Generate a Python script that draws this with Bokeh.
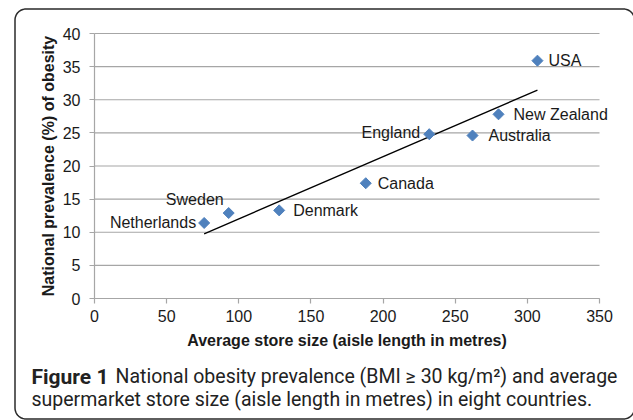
import numpy as np
from bokeh.plotting import figure
from bokeh.models import (ColumnDataSource, Range1d, FixedTicker, Label,
                          LabelSet)
from bokeh.core.properties import value
from bokeh.embed import file_html
from bokeh.resources import INLINE

# ---- data ----
countries = ["Netherlands", "Sweden", "Denmark", "Canada", "England",
             "Australia", "New Zealand", "USA"]
store_size = [76, 93, 128, 188, 232, 262, 280, 307]
obesity = [11.4, 12.9, 13.3, 17.4, 24.8, 24.6, 27.8, 35.9]

x_ticks = [0, 50, 100, 150, 200, 250, 300, 350]
y_ticks = [0, 5, 10, 15, 20, 25, 30, 35, 40]

caption_bold = "Figure 1"
caption_line1 = "National obesity prevalence (BMI \u2265 30 kg/m\u00b2) and average"
caption_line2 = "supermarket store size (aisle length in metres) in eight countries."

# label placement styles (pixel offsets / alignment)
lab_dx = [-8, -5, 14, 12, -9, 16, 15, 11]
lab_dy = [0, 14, 0, 0, 2, 0, 0, 0]
lab_align = ["right", "right", "left", "left", "right", "left", "left", "left"]

BLUE = "#4F81BD"
GRID = "#a6a6a6"
TXT = "#1a1a1a"

# ---- layout (pixels) ----
W, H = 633, 420
PX_L, PX_R = 94, 599      # x = 0 .. 350
PX_T, PX_B = 33, 298      # y = 40 .. 0
xmin, xmax = x_ticks[0], x_ticks[-1]
ymin, ymax = y_ticks[0], y_ticks[-1]
kx = (PX_R - PX_L) / (xmax - xmin)
ky = (PX_B - PX_T) / (ymax - ymin)
x_range = Range1d(xmin - PX_L / kx, xmax + (W - PX_R) / kx)
y_range = Range1d(ymin - (H - PX_B) / ky, ymax + PX_T / ky)


def px_to_data(px, py):
    return (xmin + (np.asarray(px) - PX_L) / kx,
            ymin + (PX_B - np.asarray(py)) / ky)


p = figure(width=W, height=H, output_backend="svg", toolbar_location=None,
           x_range=x_range, y_range=y_range,
           min_border=0, min_border_left=0, min_border_right=0,
           min_border_top=0, min_border_bottom=0)
p.outline_line_color = None
p.background_fill_color = "white"
p.border_fill_color = "white"
p.xgrid.visible = False
p.ygrid.visible = False

# horizontal gridlines limited to the x extent
p.segment(x0=[xmin] * len(y_ticks), x1=[xmax] * len(y_ticks), y0=y_ticks,
          y1=y_ticks, line_color=GRID, line_width=1.2)

p.xaxis.ticker = FixedTicker(ticks=x_ticks)
p.yaxis.ticker = FixedTicker(ticks=y_ticks)
p.xaxis.fixed_location = ymin
p.yaxis.fixed_location = xmin
p.xaxis.bounds = (xmin, xmax)
p.yaxis.bounds = (ymin, ymax)
for ax in (p.xaxis, p.yaxis):
    ax.axis_line_color = GRID
    ax.axis_line_width = 1.2
    ax.major_tick_line_color = GRID
    ax.major_tick_line_width = 1.2
    ax.major_tick_out = 5
    ax.major_tick_in = 0
    ax.minor_tick_line_color = None
    ax.major_label_text_font = "Liberation Sans"
    ax.major_label_text_font_size = "16px"
    ax.major_label_text_color = TXT
    ax.axis_label_text_font = "Liberation Sans"
    ax.axis_label_text_font_size = "16px"
    ax.axis_label_text_font_style = "bold"
    ax.axis_label_text_color = TXT

p.xaxis.axis_label = "Average store size (aisle length in metres)"
p.yaxis.axis_label = "National prevalence (%) of obesity"
p.xaxis.major_label_standoff = 6
p.yaxis.major_label_standoff = 9
p.xaxis.axis_label_standoff = 7
p.yaxis.axis_label_standoff = 3

# trend line (least-squares fit of the data)
slope, intercept = np.polyfit(store_size, obesity, 1)
tx = [min(store_size), max(store_size)]
ty = [slope * v + intercept for v in tx]
p.line(tx, ty, line_color="black", line_width=1.3)

src = ColumnDataSource(dict(x=store_size, y=obesity, name=countries,
                            dx=lab_dx, dy=lab_dy, align=lab_align))
p.scatter("x", "y", source=src, marker="square", size=7.8, angle=np.pi / 4,
          fill_color=BLUE, line_color=BLUE)

labels = LabelSet(x="x", y="y", text="name", source=src, x_offset="dx",
                  y_offset="dy", text_align="align", text_baseline="middle",
                  text_font=value("Liberation Sans"), text_font_size="16px",
                  text_color=TXT)
p.add_layout(labels)

# caption
CAP = "#222222"
p.add_layout(Label(x=31, y=376, x_units="canvas", y_units="canvas",
                   text=caption_bold, text_font="Roboto",
                   text_font_size="21px", text_font_style="bold",
                   text_color=CAP, text_baseline="alphabetic"))
p.add_layout(Label(x=115, y=376, x_units="canvas", y_units="canvas",
                   text=caption_line1, text_font="Roboto",
                   text_font_size="19.5px", text_color=CAP,
                   text_baseline="alphabetic"))
p.add_layout(Label(x=31, y=399, x_units="canvas", y_units="canvas",
                   text=caption_line2, text_font="Roboto",
                   text_font_size="19.5px", text_color=CAP,
                   text_baseline="alphabetic"))

# rounded frame around the whole figure (pixel geometry -> data coords)
BL, BT, BR, BB, RAD = 14.5, 8.5, 634.0, 418.5, 11.0
t = np.linspace(0, np.pi / 2, 12)
path_x, path_y = [], []
for cx, cy, a0 in [(BL + RAD, BB - RAD, np.pi / 2), (BL + RAD, BT + RAD, np.pi),
                   (BR - RAD, BT + RAD, 1.5 * np.pi), (BR - RAD, BB - RAD, 0.0)]:
    ang = a0 + t
    path_x.extend(cx + RAD * np.cos(ang))
    path_y.extend(cy + RAD * np.sin(ang))
path_x.append(path_x[0])
path_y.append(path_y[0])
bx, by = px_to_data(path_x, path_y)
p.line(bx, by, line_color="#2a2a2a", line_width=1.5)

open("out.html", "w").write(file_html(p, INLINE))
